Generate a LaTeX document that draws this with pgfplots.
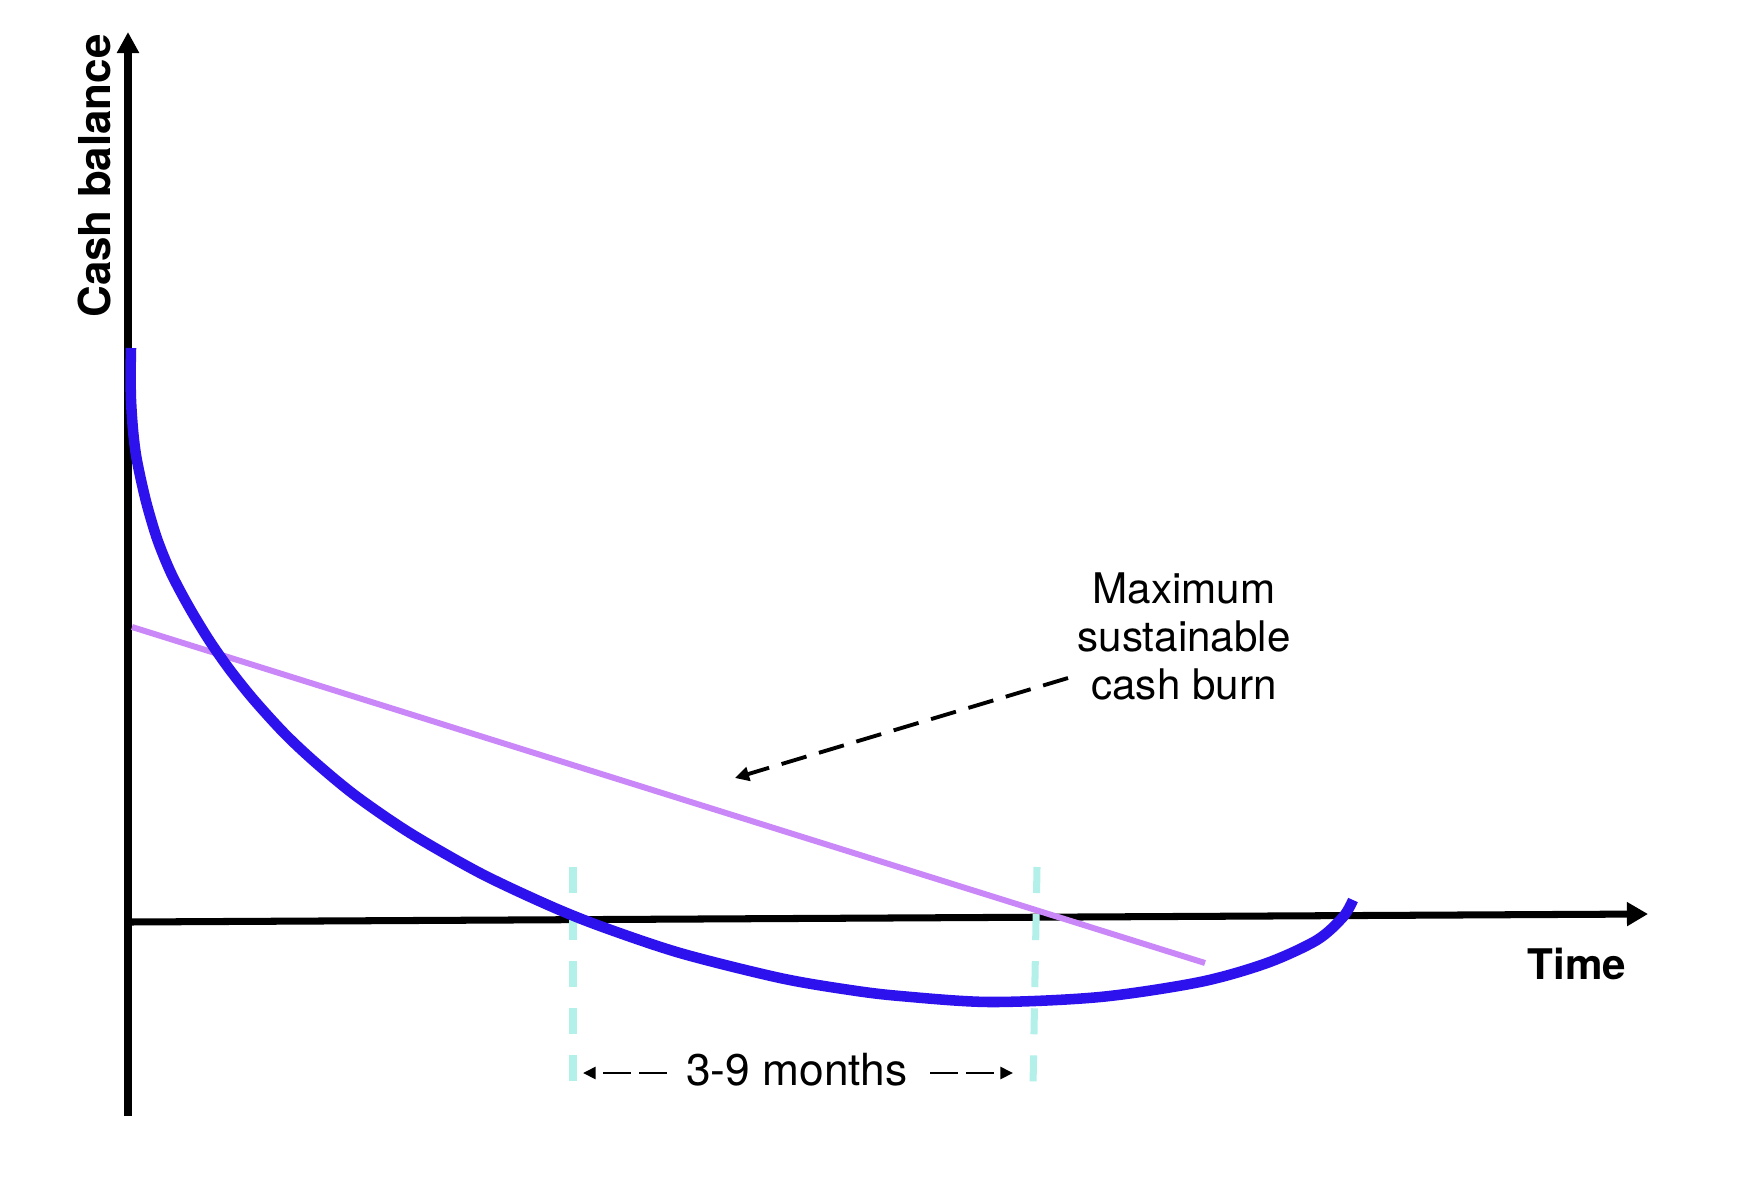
\documentclass[border=0pt]{standalone}
\usepackage{fontspec}
\setmainfont{TeX Gyre Heros}
\usepackage{pgfplots}
\pgfplotsset{compat=1.18}
\usetikzlibrary{arrows.meta}
\definecolor{burn}{HTML}{2E12EE}
\definecolor{maxburn}{HTML}{C987F8}
\definecolor{window}{HTML}{B3F0E9}
\begin{document}
\begin{tikzpicture}
\begin{axis}[width=17.62cm,height=11.8cm,scale only axis,
  xmin=0,xmax=1762,ymin=0,ymax=1180,hide axis,clip=false]
\addplot[draw=none] coordinates {(0,0) (1762,1180)};
% axes
\addplot[black,line width=2pt,-{Triangle[length=6pt,width=6.5pt]}] coordinates {(129,258) (1648,266)};
\addplot[black,line width=2pt,-{Triangle[length=6pt,width=6pt]}] coordinates {(128,64) (128,1148)};
% 3-9 month window
\addplot[window,line width=2pt,dash pattern=on 7.4pt off 6pt] coordinates {(573,313) (573,94)};
\addplot[window,line width=2pt,dash pattern=on 7.4pt off 6pt] coordinates {(1037,313) (1033,94)};
% maximum sustainable cash burn
\addplot[maxburn,line width=1.7pt] coordinates {(132,553) (1205,217)};
% cash balance
\addplot[burn,line width=3pt,smooth] coordinates {
(131,832) (130.6,807) (131,780) (133,750) (136,725) (141,700) (147.5,673) (157.5,640)
(171,607) (189,573) (209,540) (230,510) (254,480) (285,446) (316,417) (356,384)
(410,347) (480,307) (548,275) (600,254) (680,227) (780,202) (850,190) (900,184)
(990,178) (1100,183) (1200,198) (1267,217) (1317,240) (1343,263) (1353,280)};
% annotation arrows
\addplot[black,line width=1.1pt,dash pattern=on 7.4pt off 3.7pt,-{Triangle[length=4pt,width=4pt]}] coordinates {(1068,502) (735,402)};
\addplot[black,line width=0.8pt,dash pattern=on 8pt off 2.3pt,-{Triangle[length=3.6pt,width=3.4pt]}] coordinates {(667,107) (583,107)};
\addplot[black,line width=0.8pt,dash pattern=on 8pt off 2.3pt,-{Triangle[length=3.6pt,width=3.4pt]}] coordinates {(930,107) (1013,107)};
% texts
\node[anchor=base,font=\fontsize{12}{14}\selectfont] at (axis cs:1184,577) {Maximum};
\node[anchor=base,font=\fontsize{12}{14}\selectfont] at (axis cs:1184,529) {sustainable};
\node[anchor=base,font=\fontsize{12}{14}\selectfont] at (axis cs:1184,481) {cash burn};
\node[anchor=base,font=\fontsize{12.6}{14}\selectfont] at (axis cs:797,95) {3-9 months};
\node[anchor=base west,font=\fontsize{12}{14}\selectfont\bfseries,inner sep=0pt] at (axis cs:1527,201) {Time};
\node[anchor=base,rotate=90,font=\fontsize{12.5}{14}\selectfont\bfseries,inner sep=0pt] at (axis cs:110,1004) {Cash balance};
\end{axis}
\end{tikzpicture}
\end{document}
